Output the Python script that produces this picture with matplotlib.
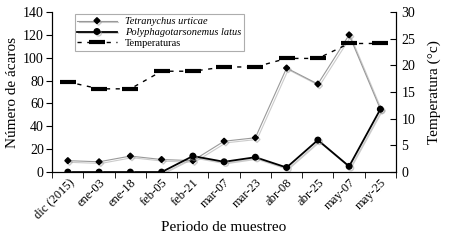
import matplotlib.pyplot as plt
import matplotlib.patheffects as pe
import numpy as np

plt.rcParams['font.family'] = 'Liberation Serif'

fechas = ['dic (2015)', 'ene-03', 'ene-18', 'feb-05', 'feb-21', 'mar-07',
          'mar-23', 'abr-08', 'abr-25', 'may-07', 'may-25']
tetranychus = [10, 9, 14, 11, 10, 27, 30, 91, 77, 120, 55]
polyphago = [0, 0, 0, 0, 14, 9, 13, 4, 28, 5, 55]
temperatura = [16.9, 15.6, 15.6, 18.9, 18.9, 19.7, 19.7, 21.3, 21.3, 24.1, 24.1]

x = np.arange(len(fechas))
sombra = [pe.SimpleLineShadow(offset=(1.2, -1.2), shadow_color='0.6', alpha=0.5), pe.Normal()]

fig = plt.figure(figsize=(4.5, 2.4), dpi=100)
ax = fig.add_axes([0.116, 0.283, 0.764, 0.667])
ax2 = ax.twinx()

l1, = ax.plot(x, tetranychus, color='0.6', lw=0.8, marker='D', ms=3,
              mfc='black', mec='black', label='Tetranychus urticae',
              path_effects=sombra)
l2, = ax.plot(x, polyphago, color='black', lw=1.3, marker='o', ms=4,
              label='Polyphagotarsonemus latus', path_effects=sombra)
l3, = ax2.plot(x, temperatura, color='black', lw=1.0, ls=(0, (3, 4)),
               marker='_', ms=11, mew=3, label='Temperaturas')

ax.set_xlim(-0.5, len(fechas) - 0.5)
ax.set_ylim(0, 140)
ax.set_yticks(range(0, 141, 20))
ax2.set_ylim(0, 30)
ax2.set_yticks(range(0, 31, 5))

ax.set_xticks(x)
ax.set_xticklabels(fechas, rotation=45, ha='right', rotation_mode='anchor', fontsize=9)
ax.set_xticks(np.arange(-0.5, len(fechas), 1), minor=True)
ax.tick_params(axis='x', which='major', length=0, pad=3)
ax.tick_params(axis='x', which='minor', length=4, direction='out')
ax.tick_params(axis='y', labelsize=10, length=4, direction='out', pad=2)
ax2.tick_params(axis='y', labelsize=10, length=4, direction='in', pad=4)

ax.spines['top'].set_visible(False)
ax2.spines['top'].set_visible(False)

ax.set_ylabel('Número de ácaros', fontsize=11, labelpad=3)
ax2.set_ylabel('Temperatura (°c)', fontsize=11, labelpad=9)
ax.set_xlabel('Periodo de muestreo', fontsize=11, labelpad=0)

leg = ax.legend(handles=[l1, l2, l3], loc='upper left', bbox_to_anchor=(0.065, 0.985),
                fontsize=7.5, frameon=True, fancybox=False, handlelength=3.8,
                borderpad=0.25, labelspacing=0.15, borderaxespad=0)
leg.get_frame().set_edgecolor('0.6')
leg.get_frame().set_linewidth(0.8)
leg.get_texts()[0].set_style('italic')
leg.get_texts()[1].set_style('italic')

fig.savefig('out.png', dpi=100)
